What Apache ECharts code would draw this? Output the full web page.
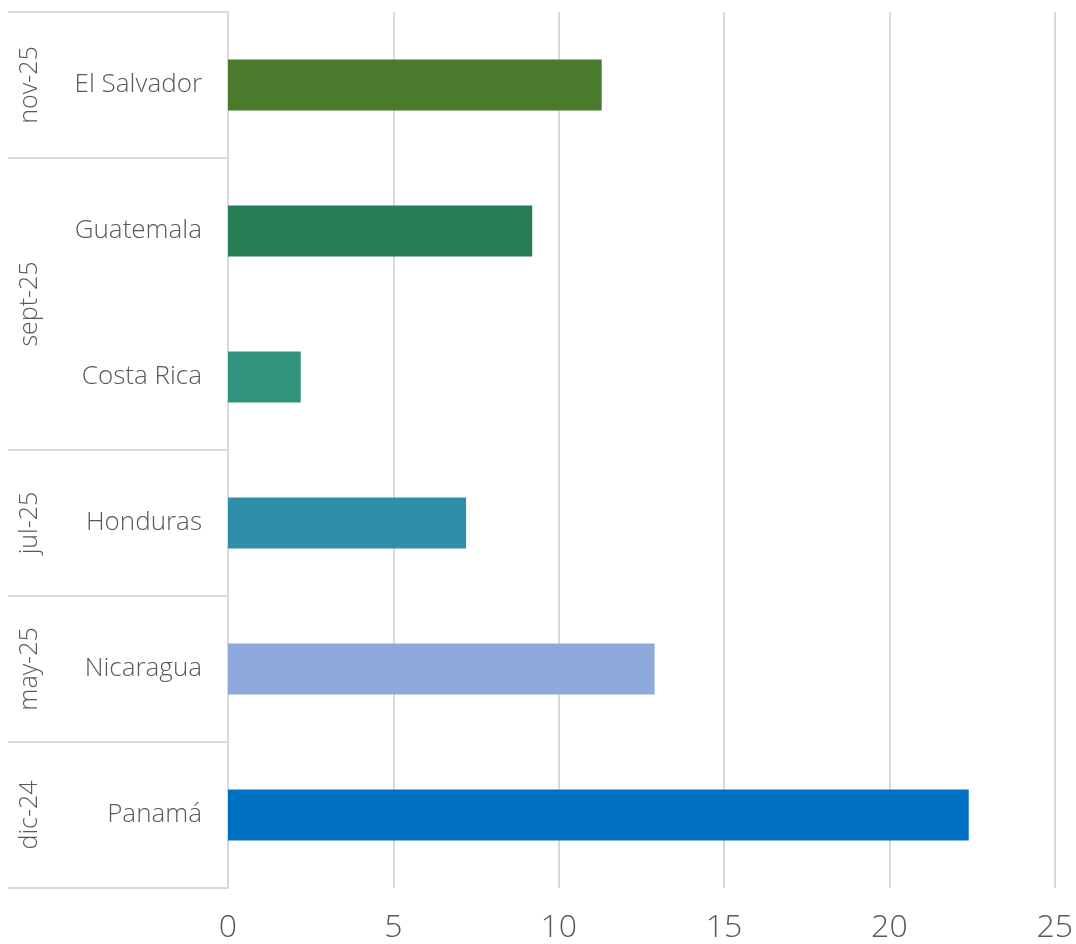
<!DOCTYPE html>
<html>
<head>
<meta charset="utf-8">
<script src="https://cdn.jsdelivr.net/npm/echarts@6/dist/echarts.min.js"></script>
<style>
  html, body { margin: 0; padding: 0; background: #fff; }
  #chart { width: 1076px; height: 944px; }
</style>
</head>
<body>
<div id="chart"></div>
<script>
// datos (de arriba hacia abajo)
const countries = ['El Salvador', 'Guatemala', 'Costa Rica', 'Honduras', 'Nicaragua', 'Panamá']
const values = [11.3, 9.2, 2.2, 7.2, 12.9, 22.4]
const barColors = ['#4a7b2c', '#277c55', '#31937b', '#2e8fa8', '#8eaadb', '#0070c0']
const groupNames = ['nov-25', 'sept-25', 'jul-25', 'may-25', 'dic-24']
const groupSizes = [1, 2, 1, 1, 1]
const xTicks = [0, 5, 10, 15, 20, 25]

// límites y centros de cada grupo
const groupEdges = [0]
const groupCenters = []
groupSizes.forEach(n => {
  const start = groupEdges[groupEdges.length - 1]
  groupCenters.push(start + n / 2)
  groupEdges.push(start + n)
})

const theme = {
  text: '#595959',
  line: '#d9d9d9',
  font: '"Open Sans", "Noto Sans", sans-serif'
}

const chart = echarts.init(document.getElementById('chart'))
chart.setOption({
  animation: false,
  grid: { left: 228, right: 21, top: 12, bottom: 56 },
  xAxis: {
    type: 'value',
    min: xTicks[0],
    max: xTicks[xTicks.length - 1],
    interval: 5,
    axisLine: { show: false },
    axisTick: { show: false },
    axisLabel: {
      color: theme.text, fontSize: 32, fontFamily: theme.font, fontWeight: 300, margin: 24
    },
    splitLine: { lineStyle: { color: theme.line, width: 2 } }
  },
  yAxis: [
    {
      type: 'category',
      data: countries,
      inverse: true,
      axisLine: { lineStyle: { color: theme.line, width: 2 } },
      axisTick: { show: false },
      axisLabel: {
        color: theme.text, fontSize: 26, fontFamily: theme.font, fontWeight: 300, margin: 26,
        padding: [4, 0, 0, 0]
      }
    },
    {
      type: 'value',
      min: 0,
      max: countries.length,
      inverse: true,
      position: 'left',
      axisLine: { show: false },
      splitLine: { show: false },
      axisTick: {
        show: true,
        length: 220,
        customValues: groupEdges,
        lineStyle: { color: theme.line, width: 2 }
      },
      axisLabel: {
        customValues: groupCenters,
        rotate: 90,
        margin: 186,
        color: theme.text, fontSize: 25, fontFamily: theme.font, fontWeight: 300,
        formatter: v => groupNames[groupCenters.indexOf(v)]
      }
    }
  ],
  series: [{
    type: 'bar',
    yAxisIndex: 0,
    barWidth: '35%',
    data: values.map((v, i) => ({ value: v, itemStyle: { color: barColors[i] } }))
  }]
})
</script>
</body>
</html>
